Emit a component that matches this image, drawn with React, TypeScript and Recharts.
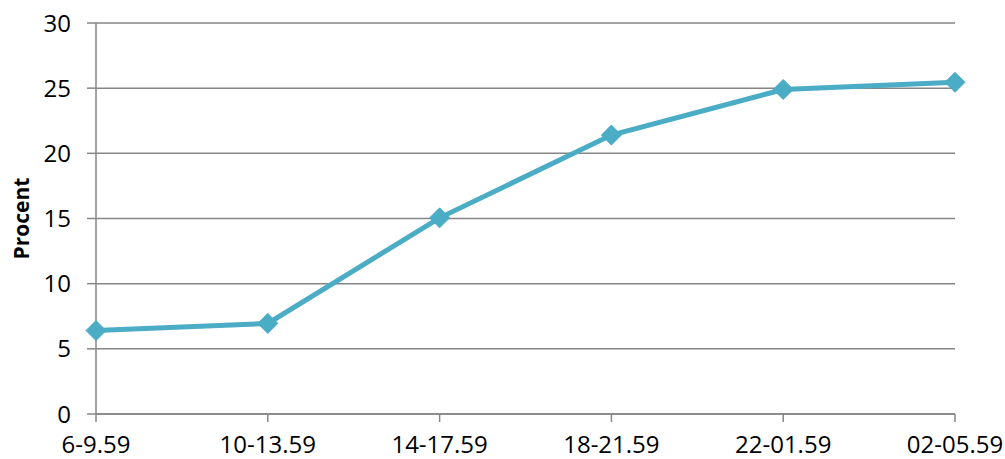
import { LineChart, Line, XAxis, YAxis, CartesianGrid, Label } from "recharts";

const periods = ["6-9.59", "10-13.59", "14-17.59", "18-21.59", "22-01.59", "02-05.59"];
const percent = [6.4, 6.95, 15.05, 21.4, 24.9, 25.45];
const yTicks = [0, 5, 10, 15, 20, 25, 30];

const data = periods.map((p, i) => ({ period: p, value: percent[i] }));

const LINE = "#4BACC6";
const AXIS = "#868686";
const FONT = "'Open Sans', sans-serif";

function Diamond(props: any) {
  const { cx, cy } = props;
  if (cx == null || cy == null) return null;
  const r = 10;
  return (
    <polygon
      points={`${cx},${cy - r} ${cx + r},${cy} ${cx},${cy + r} ${cx - r},${cy}`}
      fill={LINE}
      stroke={LINE}
    />
  );
}

export default function App() {
  return (
    <div style={{ position: "absolute", left: 0, top: 0, background: "#fff" }}>
      <LineChart
        width={1005}
        height={459}
        data={data}
        margin={{ top: 23, right: 50, bottom: 0, left: 0 }}
      >
        <CartesianGrid vertical={false} stroke={AXIS} strokeWidth={1.5} />
        <XAxis
          dataKey="period"
          height={45}
          axisLine={{ stroke: AXIS, strokeWidth: 1.5 }}
          tickLine={{ stroke: AXIS, strokeWidth: 1.5 }}
          tickSize={8}
          tickMargin={14}
          tick={{ fill: "#000", fontSize: 24, fontFamily: FONT }}
          interval={0}
        />
        <YAxis
          width={96}
          domain={[0, 30]}
          ticks={yTicks}
          axisLine={{ stroke: AXIS, strokeWidth: 1.5 }}
          tickLine={{ stroke: AXIS, strokeWidth: 1.5 }}
          tickSize={9}
          tickMargin={16}
          tick={{ fill: "#000", fontSize: 24, fontFamily: FONT }}
        >
          <Label
            content={({ viewBox }: any) => {
              const x = 21;
              const y = viewBox.y + viewBox.height / 2;
              return (
                <text
                  x={x}
                  y={y}
                  transform={`rotate(-90, ${x}, ${y})`}
                  textAnchor="middle"
                  dominantBaseline="central"
                  fontFamily={FONT}
                  fontSize={21}
                  fontWeight="bold"
                  fill="#000"
                >
                  Procent
                </text>
              );
            }}
          />
        </YAxis>
        <Line
          type="linear"
          dataKey="value"
          stroke={LINE}
          strokeWidth={5}
          dot={<Diamond />}
          activeDot={false}
          isAnimationActive={false}
        />
      </LineChart>
    </div>
  );
}
